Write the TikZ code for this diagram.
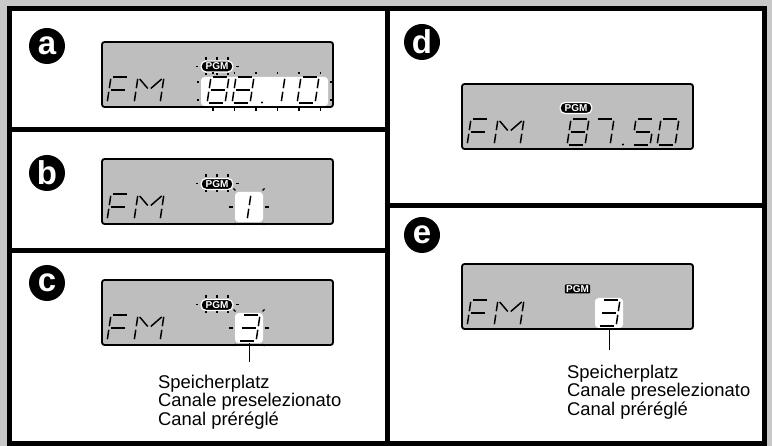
\documentclass[tikz,border=0pt]{standalone}
\usepackage{fontspec}
\setmainfont{Liberation Sans}
\usetikzlibrary{positioning, calc}
\definecolor{cback}{HTML}{C8C8C8}
\definecolor{clcd}{HTML}{BEBEBE}
\tikzset{
  every picture/.style={x=1pt, y=-1pt},
  frame/.style={draw=black, line width=5pt},
  lcd/.style={draw=black, fill=clcd, line width=1.8pt, rounded corners=2.5pt, anchor=north west, minimum width=231pt, minimum height=65pt, inner sep=0pt, outer sep=0pt},
  lit/.style={fill=white, rounded corners=3.5pt, anchor=north west, inner sep=0pt, outer sep=0pt},
  seg/.style={line width=1.5pt},
  tick/.style={line width=1.2pt},
  badge/.style={circle, fill=black, text=white, minimum size=36pt, inner sep=0pt, font=\bfseries\fontsize{33}{33}\selectfont},
  pgm/.style={fill=black, draw=white, line width=1.2pt, rounded corners=5pt, text=white, font=\bfseries\fontsize{10}{10}\selectfont, inner xsep=4.5pt, inner ysep=0pt, minimum height=11pt},
  pgmflat/.style={fill=black, rounded corners=1pt, text=white, font=\bfseries\fontsize{10}{10}\selectfont, inner xsep=1.2pt, inner ysep=0pt, minimum height=9pt},
  caption/.style={align=left, anchor=north west, inner sep=0pt, font=\fontsize{18.4}{18.4}\selectfont},
  leader/.style={line width=1pt},
  sa/.pic={\draw[seg] (1.8,0) -- (16.2,0);},
  sb/.pic={\draw[seg] (18,1.8) -- (18,11.2);},
  sc/.pic={\draw[seg] (18,14.8) -- (18,24.2);},
  sd/.pic={\draw[seg] (1.8,26) -- (16.2,26);},
  se/.pic={\draw[seg] (0,14.8) -- (0,24.2);},
  sf/.pic={\draw[seg] (0,1.8) -- (0,11.2);},
  sg/.pic={\draw[seg] (1.8,13) -- (16.2,13);},
  sj/.pic={\draw[seg] (9,1.8) -- (9,11.2);},
  sk/.pic={\draw[seg] (9,14.8) -- (9,24.2);},
  sB/.pic={\draw[seg] (26,1.8) -- (26,11.2);},
  sC/.pic={\draw[seg] (26,14.8) -- (26,24.2);},
  sh/.pic={\draw[seg] (2,2) -- (11.5,11.5);},
  si/.pic={\draw[seg] (24,2) -- (14.5,11.5);},
  pgmticks/.pic={
    \foreach \x in {104,115,126} {\draw[tick] (\x,15.5) -- (\x,18); \draw[tick] (\x,31) -- (\x,33.5);}
    \draw[tick] (93.5,24.5) -- (96,24.5);
    \draw[tick] (134,24.5) -- (136.5,24.5);
  },
  digitticks/.pic={
    \draw[tick] (131.5,29.5) -- (133.5,31.5);
    \draw[tick] (162.5,29.5) -- (160.5,31.5);
    \draw[tick] (127,48) -- (131,48);
    \draw[tick] (163,48) -- (167,48);
    \draw[tick] (131.5,66) -- (133.5,64);
    \draw[tick] (162.5,66) -- (160.5,64);
  },
}
\newcommand{\lcdglyph}[3]{%
  \begin{scope}[shift={(#1,#2)}, xslant=0.15]
    \foreach \s in {#3} \pic[transform shape] {s\s};
  \end{scope}}

\begin{document}
\begin{tikzpicture}
  \useasboundingbox (0,0) rectangle (772,446);
  \fill[cback] (0,0) rectangle (772,446);
  \fill[white] (9.5,8.5) rectangle (764.5,443.5);
  \draw[frame] (9.5,8.5) rectangle (764.5,443.5);
  \draw[frame] (387.5,8.5) -- (387.5,443.5);
  \foreach \y in {130,250.5} \draw[frame] (9.5,\y) -- (387.5,\y);
  \draw[frame] (387.5,205.5) -- (764.5,205.5);

  \node[badge] (tagA) at (47,46) {a};
  \node[badge] (tagB) at (47,173) {b};
  \node[badge] (tagC) at (47,283) {c};
  \node[badge] (tagD) at (422,42) {d};
  \node[badge] (tagE) at (422,235) {e};

  \begin{scope}[shift={(102,42)}]
    \node[lcd] (lcdA) at (0,0) {};
    \node[lit, minimum width=127pt, minimum height=29pt] (litA) at (99,35) {};
    \node[pgm] (pgmA) at (115,24.5) {PGM};
    \pic {pgmticks};
    \foreach \x in {111,132.5,154,175.5,197,218.5} {\draw[tick] (\x,30) -- (\x,32.5); \draw[tick] (\x,66.5) -- (\x,69);}
    \foreach \y in {40,58} {\draw[tick] (94.5,\y) -- (97,\y); \draw[tick] (228,\y) -- (230.5,\y);}
    \lcdglyph{9}{35}{a,f,e,g}
    \lcdglyph{36}{35}{f,e,B,C,h,i}
    \lcdglyph{109}{35}{a,b,c,d,e,f,g}
    \lcdglyph{134}{35}{a,b,c,d,e,f,g}
    \lcdglyph{174}{35}{j,k}
    \lcdglyph{199}{35}{a,b,c,d,e,f}
    \fill (160,60.5) circle (1.1);
  \end{scope}

  \begin{scope}[shift={(102,159)}]
    \node[lcd] (lcdB) at (0,0) {};
    \node[lit, minimum width=28pt, minimum height=30pt] (litB) at (133,33) {};
    \node[pgm] (pgmB) at (115,25) {PGM};
    \pic {pgmticks};
    \pic {digitticks};
    \lcdglyph{9}{35}{a,f,e,g}
    \lcdglyph{36}{35}{f,e,B,C,h,i}
    \lcdglyph{140}{35}{j,k}
  \end{scope}

  \begin{scope}[shift={(102,280)}]
    \node[lcd] (lcdC) at (0,0) {};
    \node[lit, minimum width=28pt, minimum height=30pt] (litC) at (133,33) {};
    \node[pgm] (pgmC) at (115,25) {PGM};
    \pic {pgmticks};
    \pic {digitticks};
    \lcdglyph{9}{35}{a,f,e,g}
    \lcdglyph{36}{35}{f,e,B,C,h,i}
    \lcdglyph{140}{35}{a,b,c,d,g}
    \coordinate (tipC) at (147,82);
    \node[caption] (capC) at (56,94.8) {Speicherplatz\\Canale preselezionato\\Canal préréglé};
  \end{scope}
  \draw[leader] (litC.south) -- (tipC);

  \begin{scope}[shift={(462,84)}]
    \node[lcd] (lcdD) at (0,0) {};
    \node[pgm] (pgmD) at (114,24) {PGM};
    \lcdglyph{9}{35}{a,f,e,g}
    \lcdglyph{36}{35}{f,e,B,C,h,i}
    \lcdglyph{109}{35}{a,b,c,d,e,f,g}
    \lcdglyph{134}{35}{a,b,c}
    \lcdglyph{174}{35}{a,f,g,c,d}
    \lcdglyph{199}{35}{a,b,c,d,e,f}
    \fill (161,60.5) circle (1.1);
  \end{scope}

  \begin{scope}[shift={(462,264)}]
    \node[lcd] (lcdE) at (0,0) {};
    \node[lit, minimum width=28pt, minimum height=30pt] (litE) at (133,34) {};
    \node[pgmflat] (pgmE) at (115.5,25) {PGM};
    \lcdglyph{9}{36}{a,f,e,g}
    \lcdglyph{36}{36}{f,e,B,C,h,i}
    \lcdglyph{140}{36}{a,b,c,d,g}
    \coordinate (tipE) at (147,86);
    \node[caption] (capE) at (105,100.8) {Speicherplatz\\Canale preselezionato\\Canal préréglé};
  \end{scope}
  \draw[leader] (litE.south) -- (tipE);
\end{tikzpicture}
\end{document}
